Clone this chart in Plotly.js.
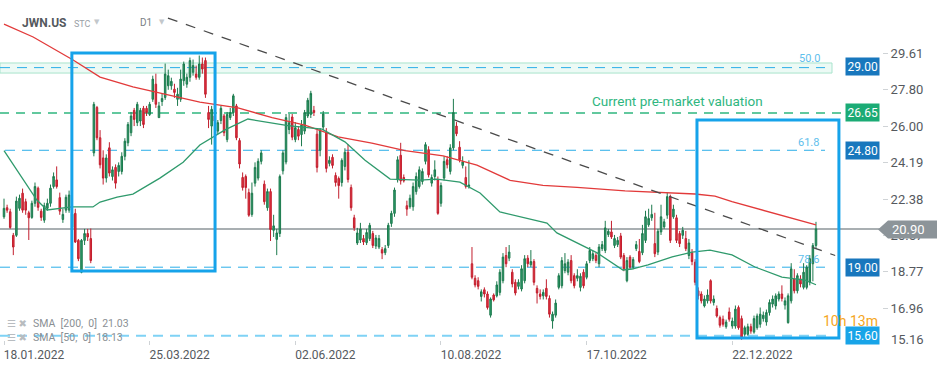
<!DOCTYPE html>
<html><head><meta charset="utf-8">
<script src="https://cdn.plot.ly/plotly-3.0.1.min.js"></script>
<style>html,body{margin:0;padding:0;background:#fff}#chart{width:949px;height:370px}</style>
</head><body><div id="chart"></div>
<script>
const tickIdx = [0, 47, 94, 141, 188, 235];
const tickLabels = ['18.01.2022','25.03.2022','02.06.2022','10.08.2022','17.10.2022','22.12.2022'];
const yTicks = [29.61, 27.80, 26.00, 24.19, 22.38, 20.57, 18.77, 16.96];
const yTickText = ['29.61','27.80','26.00','24.19','22.38','20.57','18.77','16.96'];

const openP = [
21.5,21.95,21.75,20.58,20.58,21.92,22.67,22.25,21.7,21.47,
22.17,22.92,21.78,21.33,21.92,22.17,23.0,23.33,22.45,21.37,
21.83,21.83,20.97,21.67,20.33,18.75,20.33,20.67,20.42,24.67,
26.92,25.42,24.42,23.42,24.92,23.5,23.95,23.75,23.75,24.5,
25.17,25.67,26.78,26.17,26.25,26.88,26.88,26.58,27.33,28.08,
26.42,27.22,27.42,28.0,28.0,27.83,27.33,27.33,28.25,28.08,
28.42,28.67,28.58,28.42,29.08,29.25,26.67,26.0,26.5,25.75,
26.28,26.5,25.33,26.42,26.67,27.0,25.28,23.45,23.5,22.7,
21.62,23.17,23.42,24.25,23.12,21.95,22.75,20.83,20.38,20.67,
23.78,24.22,25.83,26.45,25.33,25.83,25.58,25.75,26.5,26.58,
26.78,25.6,24.8,25.95,25.7,24.15,24.45,23.55,23.4,23.2,
24.0,24.7,22.95,21.45,20.2,20.35,20.42,20.22,20.42,20.67,
20.05,20.0,19.87,19.72,20.08,21.17,21.67,23.33,24.55,23.45,
22.05,22.0,22.0,22.75,23.0,23.25,24.25,24.83,23.17,23.5,
23.33,22.17,23.42,24.33,23.75,24.92,26.0,24.95,24.05,23.45,
23.0,19.17,18.45,18.33,17.55,17.88,17.67,16.62,17.62,17.58,
17.75,18.33,19.58,19.45,18.75,18.25,18.05,17.92,18.33,19.45,
19.12,19.28,17.95,17.67,17.58,17.95,17.45,16.33,16.62,18.0,
18.08,18.83,18.75,19.33,18.58,18.45,18.0,18.75,18.5,19.33,
19.42,19.58,19.17,19.92,19.83,20.62,20.75,20.08,20.12,20.55,
19.58,18.33,19.5,19.0,19.92,19.78,19.72,20.33,21.1,21.45,
20.17,19.75,20.75,21.0,21.58,22.5,21.5,21.45,20.67,20.58,
20.42,19.58,19.72,19.25,17.83,17.67,17.08,17.33,18.33,17.25,
16.95,16.5,16.42,16.05,16.78,16.08,16.08,17.0,16.45,15.67,
15.67,16.05,15.78,16.0,16.17,16.45,16.28,16.75,17.17,17.08,
17.42,17.67,17.12,16.25,17.33,18.42,17.83,18.42,18.0,18.0,
18.25,19.17,20.08];
const highP = [
22.4,22.1,21.9,20.7,22.5,22.6,22.9,22.4,21.8,22.3,
23.2,23.0,21.9,22.2,22.4,23.1,23.7,24.0,22.7,21.9,
22.6,22.8,21.9,21.9,20.4,20.4,20.9,20.9,20.92,27.2,
27.0,25.8,24.8,24.6,25.2,24.0,24.1,24.2,24.7,25.4,
26.2,26.7,26.9,27.2,26.9,27.0,27.0,27.2,28.5,28.6,
27.2,27.6,29.1,28.8,28.4,28.1,27.9,28.8,29.2,28.6,
29.4,29.3,29.0,29.5,29.4,29.4,27.0,27.0,26.7,26.3,
27.0,26.6,26.7,26.9,27.6,27.1,25.4,23.7,23.6,22.9,
23.2,24.2,24.4,24.8,23.3,22.9,22.9,21.6,20.9,23.6,
24.8,26.6,26.6,26.6,26.2,26.0,26.3,26.8,27.4,27.75,
27.0,25.8,25.9,26.75,25.9,24.5,24.6,23.7,23.5,24.4,
24.9,25.1,23.1,21.6,20.95,21.2,20.6,20.9,21.2,20.8,
20.6,20.6,20.0,20.1,21.2,21.8,22.95,24.5,25.17,23.6,
22.3,22.6,23.2,23.7,24.0,23.9,25.2,25.0,23.6,24.3,
23.5,23.2,24.5,24.5,25.1,27.35,26.2,25.25,24.5,24.0,
24.3,20.0,18.6,18.5,17.9,18.0,17.8,17.5,17.7,18.3,
18.9,19.7,20.0,20.1,18.9,18.4,18.4,19.1,19.6,19.6,
19.85,19.4,18.1,17.9,17.9,18.4,17.6,16.8,17.4,18.7,
19.5,19.7,19.4,19.6,18.7,18.9,18.7,18.9,19.3,20.0,
19.8,19.7,20.15,20.3,21.3,20.9,21.3,20.6,20.5,20.7,
19.7,19.5,19.6,19.5,20.3,20.4,21.1,21.8,21.9,22.1,
21.7,20.9,22.1,21.4,22.7,22.6,22.1,21.6,20.8,21.0,
20.8,20.4,19.9,19.4,18.0,17.8,17.6,17.9,18.4,17.6,
17.1,16.6,16.6,16.4,17.0,16.5,17.1,17.1,16.6,16.1,
16.2,16.2,16.6,16.7,17.0,16.8,16.9,17.4,17.6,17.7,
17.8,18.1,17.5,17.7,19.2,18.9,18.7,18.6,19.2,19.1,
19.6,20.2,21.25];
const lowP = [
21.4,21.7,20.9,19.6,20.5,21.8,21.7,21.6,20.35,21.4,
22.0,21.8,21.3,21.2,21.8,22.0,22.9,22.9,21.6,21.2,
21.7,21.7,20.8,20.2,19.3,18.7,20.1,20.3,19.2,24.5,
25.3,23.9,23.1,23.2,23.5,23.3,22.9,23.5,23.6,24.3,
25.0,25.5,26.0,26.0,26.0,25.9,26.5,26.5,27.2,26.9,
26.4,27.0,27.3,27.8,27.8,27.4,27.0,27.2,28.0,27.9,
28.2,28.5,28.3,28.3,28.6,27.4,25.9,25.08,26.0,25.6,
26.1,25.5,25.2,26.3,26.5,25.3,23.9,22.8,22.4,21.5,
21.5,23.0,23.3,24.1,22.1,21.8,20.3,20.5,19.6,20.5,
23.6,24.1,25.6,25.3,25.2,25.3,25.0,25.6,26.4,26.4,
26.5,23.7,24.5,25.8,23.7,24.0,23.9,23.0,22.4,23.0,
23.8,23.2,21.8,20.8,20.1,20.2,20.1,20.1,20.3,19.95,
19.9,19.9,19.4,19.6,19.95,21.0,21.5,23.2,23.1,23.2,
21.55,21.9,21.8,22.6,22.9,23.1,24.1,23.45,23.0,23.3,
21.6,22.0,23.3,23.9,23.6,24.8,25.5,24.2,23.9,22.9,
22.9,18.4,18.0,17.9,17.3,17.5,16.9,16.5,17.3,17.5,
17.6,18.2,19.0,19.3,18.0,17.6,17.9,17.8,18.2,19.0,
19.0,18.1,17.2,17.4,17.4,17.4,16.5,15.95,16.5,17.9,
17.95,18.7,18.6,18.2,17.95,18.3,17.8,17.95,18.4,19.2,
19.3,19.2,19.0,19.8,19.7,20.5,20.4,19.95,20.0,19.4,
18.8,18.25,18.9,18.9,19.8,19.2,19.6,20.2,21.0,21.3,
19.5,19.6,20.6,20.9,21.4,20.2,21.4,20.2,20.0,20.4,
19.8,19.4,19.1,18.1,17.4,17.2,17.0,17.2,17.2,17.1,
16.5,16.0,16.05,15.95,16.3,15.95,15.95,15.9,15.4,15.55,
15.6,15.7,15.7,15.9,16.0,16.3,16.1,16.6,17.0,16.9,
17.3,17.3,16.9,16.2,17.2,17.7,17.7,18.0,17.9,17.9,
18.1,18.3,19.9];
const closeP = [
21.92,21.83,20.97,20.0,22.28,22.42,21.83,21.83,21.45,22.17,
23.0,21.97,21.47,22.05,22.17,22.92,23.5,23.0,21.78,21.62,
22.47,22.58,21.63,20.25,19.42,20.33,20.67,20.5,19.33,27.08,
25.42,24.08,23.42,24.42,23.67,23.83,23.17,24.05,24.5,25.25,
26.08,26.5,26.33,27.08,26.78,26.08,26.67,27.08,28.33,27.08,
27.0,27.37,28.58,28.5,28.22,27.67,27.58,28.33,29.08,28.42,
29.25,29.0,28.42,29.08,28.83,27.58,26.33,26.83,26.25,26.17,
26.88,25.67,26.58,26.67,27.5,25.42,24.12,22.95,22.95,21.58,
22.67,23.95,24.25,24.67,22.25,22.75,20.87,21.05,20.7,23.5,
24.67,26.42,26.17,25.45,25.92,25.5,26.05,26.67,27.28,27.62,
26.67,23.95,25.8,26.6,23.9,24.3,24.05,23.2,23.05,24.3,
24.7,23.35,21.95,20.95,20.7,20.9,20.25,20.72,21.08,20.08,
20.45,20.42,19.7,19.92,21.08,21.67,22.83,24.33,23.28,23.28,
21.88,22.42,23.0,23.5,23.83,23.75,25.08,23.58,23.45,23.83,
21.67,23.05,24.25,24.08,24.92,26.67,25.62,24.33,24.22,23.0,
23.08,18.5,18.12,18.05,17.78,17.67,17.0,17.42,17.38,18.12,
18.75,19.5,19.17,19.75,18.17,17.72,18.25,18.92,19.42,19.17,
19.28,18.25,17.72,17.55,17.75,17.55,16.67,16.67,17.22,18.58,
19.33,19.17,19.25,18.33,18.08,18.58,18.55,18.08,19.17,19.83,
19.67,19.33,20.0,20.12,20.95,20.78,20.5,20.42,20.33,19.5,
18.92,19.33,19.0,19.38,20.12,19.28,20.67,21.5,21.42,21.62,
19.67,20.78,21.5,21.25,22.5,20.33,21.88,20.33,20.17,20.83,
19.92,20.2,19.28,18.25,17.58,17.33,17.42,17.62,17.33,17.42,
16.58,16.12,16.17,16.28,16.42,16.33,16.92,16.0,15.5,16.0,
16.05,15.83,16.45,16.58,16.67,16.62,16.75,17.25,17.42,17.58,
17.67,17.45,17.33,17.58,18.92,17.83,18.58,18.17,18.75,19.0,
19.42,20.08,20.9];

const sma200Idx = [0,9.4,22.3,31,41.6,52.6,63.2,75.5,86.5,97.1,107.8,118.7,129.4,141.7,152.6,163.3,173.9,184.9,200.4,223,229.4,234.9,262];
const sma200Val = [31.06,30.42,29.28,28.43,27.94,27.54,27.19,26.90,26.42,26.05,25.47,25.16,24.78,24.52,24.06,23.31,23.06,22.96,22.79,22.63,22.53,22.25,21.1];
const sma50Idx = [0,10.6,13.9,21.9,28.7,31,36.5,41.6,50.3,57.8,63.2,67.4,71.3,78.7,82,91.6,102.6,105.8,110,116.5,124.6,134.2,139.7,147.1,153.6,160,168.8,175.2,178.4,184.9,191.4,199.7,202.6,207.8,215.6,222,227.8,234.9,242.3,251,258.5,262];
const sma50Val = [24.78,22.33,21.84,21.99,21.99,22.23,22.48,22.63,23.42,24.21,25.06,25.46,25.81,26.35,26.27,26.02,25.85,25.56,25.22,24.31,23.37,23.32,23.37,23.22,22.68,21.74,21.44,21.19,20.70,20.20,19.71,18.86,18.91,19.11,19.51,19.75,19.85,19.61,19.01,18.51,18.36,18.13];

const levelVals = [28.9, 26.65, 24.80, 19.00, 15.60];
const levelTexts = ['29.00','26.65','24.80','19.00','15.60'];
const fibTexts = ['50.0','61.8','78.6'];
const lastPrice = 20.90;
const lastText = '20.90';
const smaLegend = ['SMA  [200,  0]  21.03', 'SMA  [50,  0]  18.13'];
const header = ['JWN.US','STC','D1'];
const note = 'Current pre-market valuation';
const timer = '10h 13m';

const FONT = 'Roboto, "Noto Sans", "DejaVu Sans", sans-serif';
const PW = 882, PH = 340;
const px = x => x / PW;
const py = y => (PH - y) / PH;
const YMIN = 15.389, YMAX = 32.254;

const xIdx = openP.map((_, i) => i);

const traces = [
  {type:'candlestick', x:xIdx, open:openP, high:highP, low:lowP, close:closeP,
   increasing:{line:{color:'#1d7a4e', width:1}, fillcolor:'#2e9e6b'},
   decreasing:{line:{color:'#c21f2e', width:1}, fillcolor:'#e2323f'},
   whiskerwidth:0, hoverinfo:'skip', showlegend:false},
  {type:'scatter', mode:'lines', x:sma200Idx, y:sma200Val, line:{color:'#e23a3a', width:1.3}, hoverinfo:'skip', showlegend:false},
  {type:'scatter', mode:'lines', x:sma50Idx, y:sma50Val, line:{color:'#2f9a6c', width:1.3}, hoverinfo:'skip', showlegend:false}
];

const blue = '#2aaee8', darkBlue = '#1877bd', green = '#2fb67f';
const shapes = [
  {type:'rect', layer:'below', xref:'paper', yref:'y', x0:0, x1:px(832), y0:28.63, y1:29.13, fillcolor:'rgba(220,246,236,0.55)', line:{color:'#a9e4cd', width:1}},
  {type:'line', layer:'below', xref:'paper', yref:'y', x0:0, x1:px(825), y0:levelVals[0], y1:levelVals[0], line:{color:blue, width:1, dash:'10px,7px'}},
  {type:'line', layer:'below', xref:'paper', yref:'y', x0:0, x1:px(842), y0:levelVals[1], y1:levelVals[1], line:{color:green, width:1.5, dash:'9px,7px'}},
  {type:'line', layer:'below', xref:'paper', yref:'y', x0:px(5), x1:px(825), y0:levelVals[2], y1:levelVals[2], line:{color:blue, width:1, dash:'10px,7px'}},
  {type:'line', layer:'below', xref:'paper', yref:'y', x0:0, x1:px(825), y0:levelVals[3], y1:levelVals[3], line:{color:blue, width:1, dash:'10px,7px'}},
  {type:'line', layer:'below', xref:'paper', yref:'y', x0:0, x1:px(832), y0:levelVals[4], y1:levelVals[4], line:{color:'#7fd2f5', width:2, dash:'10px,7px'}},
  {type:'line', layer:'below', xref:'paper', yref:'y', x0:0, x1:px(880), y0:lastPrice, y1:lastPrice, line:{color:'#8c9499', width:1.5}},
  {type:'line', layer:'above', xref:'x', yref:'y', x0:52.9, y0:31.36, x1:268.2, y1:19.58, line:{color:'#4a4a4a', width:1.3, dash:'10px,9px'}},
  {type:'rect', layer:'above', xref:'x', yref:'y', x0:21.9, x1:68.1, y0:18.81, y1:29.62, line:{color:'#16a3ea', width:3}},
  {type:'rect', layer:'above', xref:'x', yref:'y', x0:223.6, x1:269.4, y0:15.49, y1:26.30, line:{color:'#16a3ea', width:3}},
  {type:'path', layer:'above', xref:'paper', yref:'paper',
   path:`M ${px(878)} ${py(229.5)} L ${px(888)} ${py(220.5)} L ${px(937)} ${py(220.5)} L ${px(937)} ${py(238.5)} L ${px(888)} ${py(238.5)} Z`,
   fillcolor:'#8c9499', line:{width:0}}
];

function tag(text, yv, bg){
  return {xref:'paper', yref:'y', x:px(845), y:yv, xanchor:'left', yanchor:'middle', text:text, showarrow:false,
          bgcolor:bg, borderpad:1.5, font:{family:FONT, size:12, color:'#ffffff'}};
}
const annotations = [
  {xref:'paper', yref:'paper', x:px(20), y:py(23), xanchor:'left', yanchor:'middle', text:'<b>'+header[0]+'</b>', showarrow:false, font:{family:FONT, size:12, color:'#55595e'}},
  {xref:'paper', yref:'paper', x:px(72), y:py(24), xanchor:'left', yanchor:'middle', text:header[1], showarrow:false, font:{family:FONT, size:9, color:'#9aa0a6'}},
  {xref:'paper', yref:'paper', x:px(92), y:py(22), xanchor:'left', yanchor:'middle', text:'▼', showarrow:false, font:{family:FONT, size:7, color:'#c3c7cb'}},
  {xref:'paper', yref:'paper', x:px(138), y:py(23), xanchor:'left', yanchor:'middle', text:header[2], showarrow:false, font:{family:FONT, size:10, color:'#7a7f85'}},
  {xref:'paper', yref:'paper', x:px(157), y:py(22), xanchor:'left', yanchor:'middle', text:'▼', showarrow:false, font:{family:FONT, size:7, color:'#c3c7cb'}},
  {xref:'paper', yref:'y', x:px(822), y:29.33, xanchor:'right', yanchor:'middle', text:fibTexts[0], showarrow:false, font:{family:FONT, size:11, color:'#5fc0ec'}},
  {xref:'paper', yref:'y', x:px(821), y:25.21, xanchor:'right', yanchor:'middle', text:fibTexts[1], showarrow:false, font:{family:FONT, size:11, color:'#5fc0ec'}},
  {xref:'paper', yref:'y', x:px(821), y:19.36, xanchor:'right', yanchor:'middle', text:fibTexts[2], showarrow:false, font:{family:FONT, size:11, color:'#5fc0ec'}},
  {xref:'paper', yref:'y', x:px(677), y:27.24, xanchor:'center', yanchor:'middle', text:note, showarrow:false, font:{family:FONT, size:13.5, color:'#2fb67f'}},
  tag(levelTexts[0], levelVals[0] + 0.05, darkBlue),
  tag(levelTexts[1], levelVals[1], '#1bab75'),
  tag(levelTexts[2], levelVals[2], darkBlue),
  tag(levelTexts[3], levelVals[3], darkBlue),
  tag(levelTexts[4], levelVals[4], '#18a4e8'),
  {xref:'paper', yref:'paper', x:px(890), y:py(229.5), xanchor:'left', yanchor:'middle', text:lastText, showarrow:false, font:{family:FONT, size:13, color:'#ffffff'}},
  {xref:'paper', yref:'paper', x:px(889), y:py(339), xanchor:'left', yanchor:'middle', text:'15.16', showarrow:false, font:{family:FONT, size:13, color:'#55595e'}},
  {xref:'paper', yref:'paper', x:px(880), y:py(321), xanchor:'right', yanchor:'middle', text:timer, showarrow:false, font:{family:FONT, size:14, color:'#f5a623'}},
  {xref:'paper', yref:'paper', x:px(5), y:py(323), xanchor:'left', yanchor:'middle', text:'☰ ✖', showarrow:false, font:{family:FONT, size:10, color:'#b8bcc0'}},
  {xref:'paper', yref:'paper', x:px(5), y:py(337), xanchor:'left', yanchor:'middle', text:'☰ ✖', showarrow:false, font:{family:FONT, size:10, color:'#b8bcc0'}},
  {xref:'paper', yref:'paper', x:px(31), y:py(323), xanchor:'left', yanchor:'middle', text:smaLegend[0], showarrow:false, font:{family:FONT, size:10.5, color:'#8a8f94'}},
  {xref:'paper', yref:'paper', x:px(31), y:py(337), xanchor:'left', yanchor:'middle', text:smaLegend[1], showarrow:false, font:{family:FONT, size:10.5, color:'#8a8f94'}}
];

const layout = {
  width:949, height:370,
  margin:{l:0, r:67, t:0, b:30},
  paper_bgcolor:'#ffffff', plot_bgcolor:'#ffffff',
  showlegend:false, hovermode:false, dragmode:false,
  xaxis:{range:[-1.29, 283.3], rangeslider:{visible:false}, showgrid:false, zeroline:false, showline:false,
         tickmode:'array', tickvals:tickIdx, ticktext:tickLabels, ticks:'outside', ticklen:4, tickcolor:'#cfd3d6',
         ticklabelshift:30, ticklabeloverflow:'allow',
         tickfont:{family:FONT, size:12, color:'#55595e'}},
  yaxis:{range:[YMIN, YMAX], side:'right', showgrid:false, zeroline:false, showline:false,
         tickmode:'array', tickvals:yTicks, ticktext:yTickText, ticks:'outside', ticklen:5, tickcolor:'#cfd3d6',
         tickfont:{family:FONT, size:13, color:'#55595e'}},
  shapes:shapes,
  annotations:annotations
};

Plotly.newPlot('chart', traces, layout, {staticPlot:true, displayModeBar:false});
</script>
</body></html>
